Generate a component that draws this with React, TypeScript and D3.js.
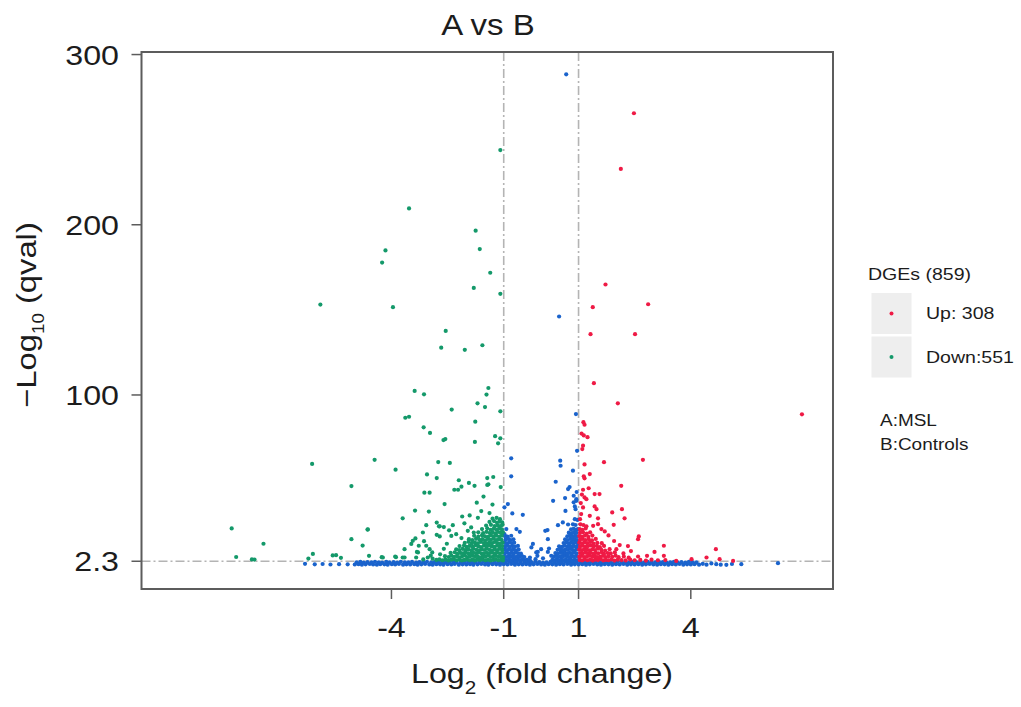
import React from 'react';
import * as d3 from 'd3';

const title = 'A vs B';
const xTicks = [-4, -1, 1, 4];
const yTicks = [2.3, 100, 200, 300];
const xDomain: [number, number] = [-10.68, 7.8];
const yDomain: [number, number] = [-14, 301.5];
const fcCut = [-1, 1];
const qCut = 2.3;
const legendTitle = 'DGEs (859)';
const legendItems = [
  { label: 'Up: 308', group: 'up' },
  { label: 'Down:551', group: 'down' },
];
const notes = ['A:MSL', 'B:Controls'];

// ---- Up-regulated (red) ----
const upSparse: [number, number][] = [
  [2.48,265.5],[2.13,232.8],[1.72,164.9],[1.38,151.6],[2.86,153.3],[1.32,135.7],[2.51,135.7],
  [1.41,106.9],[2.05,95.1],[6.97,88.6],[1.13,84.0],[1.16,82.5],[1.08,77.3],[1.24,75.2],[1.14,76.2],
  [1.12,70.2],[1.10,68.2],[1.68,60.5],[2.72,61.9],[1.16,59.2],[1.30,53.5],[1.14,52.2],[1.16,51.0],
  [2.14,46.6],[1.12,44.3],[1.43,41.8],[1.56,41.8],[1.16,39.8],[1.21,38.8],[1.43,34.5],[1.48,32.9],
  [2.16,32.9],[1.90,31.0],[2.23,27.5],[1.12,33.9],[1.52,27.5],[1.30,29.0],[1.07,30.0],[1.94,23.7],
  [1.52,24.1],[1.61,21.2],[1.39,23.1],[1.21,22.8],[2.61,16.9],[2.59,15.3],[2.32,11.2],[2.10,11.8],
  [2.01,9.4],[3.28,11.4],[3.03,7.8],[2.83,5.5],[2.59,5.1],[3.28,5.5],[4.67,9.4],[4.42,4.5],[4.77,3.5],
  [5.13,2.5],[4.02,3.5],[3.61,2.5],[1.80,17.5],[1.70,19.8],[1.95,14.2],[1.06,36.5],[1.09,41.5],
  [1.27,45.2],[2.40,8.3],[2.20,6.9],
];
const upDense: [number, number][] = [
  [1.03,3.1],[1.10,2.8],[1.17,3.4],[1.24,2.9],[1.31,3.3],[1.38,2.7],[1.45,3.2],[1.52,3.0],[1.59,3.5],[1.66,2.8],
  [1.73,3.1],[1.80,2.9],[1.88,3.4],[1.96,2.7],[2.05,3.2],[2.15,3.0],[2.26,2.8],[2.38,3.3],[2.50,2.9],[2.65,3.1],
  [2.80,2.7],[2.95,3.2],[3.12,2.9],[3.32,3.0],
  [1.02,5.0],[1.09,5.4],[1.16,4.8],[1.23,5.2],[1.30,5.6],[1.37,4.9],[1.44,5.3],[1.51,4.7],[1.58,5.1],[1.65,5.5],
  [1.72,4.8],[1.80,5.2],[1.90,4.9],[1.99,5.6],[2.07,4.7],[2.21,5.1],[2.34,4.4],
  [1.04,7.1],[1.11,6.8],[1.18,7.4],[1.25,6.9],[1.32,7.3],[1.39,6.7],[1.46,7.2],[1.53,7.0],[1.62,7.6],[1.68,6.6],
  [1.78,7.1],[1.86,6.9],[1.97,7.5],
  [1.02,9.2],[1.09,8.8],[1.16,9.4],[1.23,9.0],[1.30,8.7],[1.37,9.3],[1.44,8.9],[1.52,9.7],[1.61,9.0],[1.71,8.6],
  [1.83,9.4],
  [1.04,11.0],[1.11,11.4],[1.18,10.8],[1.25,11.2],[1.32,11.6],[1.40,10.9],[1.49,11.3],[1.57,10.6],[1.68,11.3],
  [1.02,13.2],[1.09,12.8],[1.16,13.4],[1.23,12.9],[1.31,13.6],[1.40,12.7],[1.50,13.1],[1.62,12.9],
  [1.04,15.0],[1.11,15.4],[1.18,14.8],[1.27,15.3],[1.36,14.6],[1.46,15.4],
  [1.02,17.1],[1.09,16.8],[1.17,17.4],[1.26,16.7],[1.37,17.4],
  [1.04,19.0],[1.12,19.4],[1.22,18.6],[1.31,19.3],
  [1.03,21.2],[1.10,20.8],[1.19,21.6],
  [1.05,24.0],[1.13,23.6],
  [1.04,27.0],
];

// ---- Down-regulated (green) ----
const downSparse: [number, number][] = [
  [-1.09,243.9],[-3.53,209.6],[-1.75,196.5],[-1.64,185.7],[-4.16,184.9],[-4.25,177.8],[-1.36,171.8],
  [-1.80,162.9],[-1.09,159.4],[-5.90,153.1],[-3.96,151.6],[-2.55,137.6],[-2.67,127.8],[-2.04,126.5],
  [-1.57,129.2],[-3.38,102.4],[-3.13,100.4],[-1.41,104.1],[-1.46,100.2],[-1.70,95.1],[-1.50,92.9],
  [-2.39,91.4],[-1.09,90.4],[-3.63,86.6],[-3.53,87.2],[-3.14,81.0],[-1.76,84.3],[-2.97,77.7],
  [-2.56,74.1],[-2.61,73.5],[-1.77,72.4],[-1.23,75.8],[-1.09,74.5],[-1.15,71.6],[-6.12,59.5],
  [-4.45,61.9],[-3.89,56.1],[-2.75,60.6],[-2.44,60.1],[-5.07,46.5],[-3.05,53.3],[-2.79,51.2],
  [-2.20,49.9],[-1.93,48.3],[-1.44,51.2],[-1.28,51.8],[-1.44,47.1],[-1.08,45.9],[-2.22,44.3],
  [-2.32,44.3],[-3.12,42.6],[-2.98,42.6],[-1.54,40.3],[-1.72,36.7],[-2.58,35.9],[-1.30,35.6],
  [-4.64,20.9],[-3.70,27.5],[-3.37,32.1],[-3.00,31.5],[-5.07,15.3],[-4.77,11.5],[-8.27,21.6],
  [-7.42,12.6],[-8.15,4.8],[-7.73,3.4],[-7.66,3.3],[-2.13,46.1],[-1.78,46.6],[-1.41,47.5],
  [-2.11,28.6],[-1.91,29.2],[-1.69,27.8],[-3.07,23.5],[-3.16,19.2],[-2.71,22.8],[-2.60,22.4],
  [-2.36,23.5],[-3.36,15.7],[-3.47,12.5],[-3.27,11.4],[-3.13,14.1],[-2.98,9.4],[-2.91,7.5],
  [-3.29,7.5],[-2.79,17.8],[-2.71,16.9],[-2.40,17.2],[-2.27,18.2],[-2.13,15.9],[-1.87,22.2],
  [-1.96,20.2],[-1.80,19.2],[-3.90,5.1],[-3.70,4.5],[-6.10,6.6],[-6.22,3.9],[-5.57,5.7],
  [-5.48,5.9],[-5.35,4.3],[-4.60,5.5],[-4.26,4.7],[-3.88,4.7],[-4.63,21.0],[-3.43,14.3],
  [-3.07,11.4],[-3.65,9.4],[-3.32,7.8],[-4.23,4.5],[-3.65,4.5],[-3.34,4.5],[-3.03,4.5],
  [-2.79,25.0],[-2.73,22.8],[-2.90,3.8],[-2.95,5.6],[-3.15,3.4],[-2.52,12.6],[-2.60,9.6],
  [-2.46,20.5],[-2.05,24.6],[-2.70,6.4],[-1.60,31.8],[-1.38,30.6],
];
const downDense: [number, number][] = [
  [-2.80,3.1],[-2.72,3.4],[-2.64,2.9],[-2.56,3.3],[-2.48,2.8],[-2.40,3.2],[-2.33,3.5],[-2.26,2.9],[-2.19,3.3],
  [-2.12,2.8],[-2.05,3.1],[-1.98,3.4],[-1.91,2.9],[-1.84,3.2],[-1.77,2.8],[-1.70,3.3],[-1.63,3.0],[-1.56,3.4],
  [-1.49,2.9],[-1.42,3.2],[-1.35,2.8],[-1.28,3.1],[-1.21,3.4],[-1.14,2.9],[-1.07,3.2],[-1.02,2.8],
  [-2.57,5.3],[-2.47,4.8],[-2.40,5.6],[-2.33,4.9],[-2.25,5.3],[-2.18,4.6],[-2.11,5.2],[-2.04,5.7],[-1.98,4.8],
  [-1.91,5.1],[-1.84,5.6],[-1.77,4.9],[-1.70,5.3],[-1.63,4.6],[-1.56,5.2],[-1.49,5.0],[-1.42,5.7],[-1.35,4.8],
  [-1.28,5.1],[-1.21,5.5],[-1.14,4.9],[-1.07,5.2],[-1.02,4.7],
  [-2.42,7.2],[-2.31,7.6],[-2.24,6.6],[-2.16,7.2],[-2.09,6.9],[-2.02,7.7],[-1.95,7.0],[-1.88,6.6],[-1.81,7.3],
  [-1.74,6.9],[-1.67,7.6],[-1.60,7.0],[-1.53,6.7],[-1.46,7.3],[-1.39,6.9],[-1.32,7.4],[-1.25,6.8],[-1.18,7.5],
  [-1.11,7.0],[-1.04,7.3],
  [-2.27,9.3],[-2.19,8.8],[-2.10,9.6],[-2.03,8.9],[-1.95,9.3],[-1.87,8.7],[-1.81,9.6],[-1.73,9.0],[-1.66,8.6],
  [-1.59,9.4],[-1.52,8.9],[-1.45,9.6],[-1.38,9.0],[-1.31,8.6],[-1.24,9.3],[-1.17,8.9],[-1.10,9.5],[-1.04,9.0],
  [-2.18,11.2],[-2.06,11.6],[-1.99,10.7],[-1.91,11.3],[-1.83,10.8],[-1.76,11.7],[-1.68,11.0],[-1.61,10.6],
  [-1.53,11.4],[-1.46,10.9],[-1.39,11.6],[-1.32,11.0],[-1.25,10.7],[-1.18,11.4],[-1.11,10.9],[-1.04,11.2],
  [-2.04,13.1],[-1.94,13.7],[-1.86,12.8],[-1.77,13.3],[-1.69,12.8],[-1.61,13.6],[-1.53,13.0],[-1.46,12.6],
  [-1.39,13.4],[-1.31,12.9],[-1.24,13.6],[-1.17,13.0],[-1.10,12.7],[-1.03,13.3],
  [-1.93,15.3],[-1.84,14.7],[-1.74,15.5],[-1.65,14.9],[-1.57,15.3],[-1.49,14.6],[-1.42,15.4],[-1.34,14.9],
  [-1.27,15.6],[-1.20,14.8],[-1.13,15.3],[-1.06,14.9],
  [-1.79,17.3],[-1.68,16.8],[-1.58,17.6],[-1.50,17.0],[-1.42,16.6],[-1.34,17.5],[-1.27,16.9],[-1.20,17.4],
  [-1.12,16.8],[-1.05,17.3],
  [-1.68,19.3],[-1.55,18.8],[-1.46,19.6],[-1.38,18.9],[-1.30,19.4],[-1.22,18.7],[-1.15,19.5],[-1.08,19.0],[-1.02,19.3],
  [-1.58,21.2],[-1.44,21.7],[-1.35,20.8],[-1.27,21.4],[-1.19,20.8],[-1.12,21.6],[-1.05,21.0],
  [-1.47,23.3],[-1.34,23.7],[-1.24,22.9],[-1.16,23.4],[-1.08,23.0],[-1.03,23.7],
  [-1.38,25.4],[-1.26,25.9],[-1.18,25.0],[-1.11,25.6],[-1.04,25.1],
  [-1.30,27.3],[-1.19,27.8],[-1.10,27.0],
];

// ---- Not significant (blue) ----
const nsSparse: [number, number][] = [
  [0.67,288.4],[0.48,146.1],[0.93,88.8],[0.96,67.2],[0.51,61.4],[0.52,58.4],[0.85,55.5],[0.39,49.0],
  [0.72,44.7],[0.76,45.9],[0.32,37.8],[0.64,39.4],[0.87,40.8],[0.94,37.8],[0.90,34.5],[0.65,31.9],
  [0.17,20.6],[0.45,23.5],[0.58,25.1],[0.72,23.9],[0.94,38.8],[0.87,36.9],[0.92,32.9],[0.95,43.0],
  [-0.80,62.8],[-0.80,52.2],[-0.89,35.9],[-0.98,34.0],[-0.77,30.4],[-0.49,29.6],[-0.93,21.2],
  [-0.66,21.2],[-0.57,19.6],[-0.98,18.2],[-0.22,12.5],[-0.26,10.4],[-0.09,7.8],[-0.10,5.5],[0.18,7.8],
  [0.21,9.8],[-0.13,7.5],[0.00,9.4],[0.11,20.2],[0.18,15.3],[0.27,5.5],[-0.15,3.5],[0.05,4.0],[-0.30,4.5],
  [-6.31,0.8],[-6.05,0.5],[-5.84,0.7],[-5.63,0.4],[-5.40,0.6],[-5.17,0.5],
  [4.32,0.8],[4.42,0.3],[4.55,1.0],[4.68,0.6],[4.80,0.3],[4.95,0.2],[5.10,0.7],[5.35,0.6],[6.33,1.2],
];
const nsCluster: [number, number][] = [
  [-0.98,3.1],[-0.92,2.8],[-0.86,3.4],[-0.80,2.9],[-0.74,3.3],[-0.68,2.8],[-0.62,3.2],[-0.56,2.9],[-0.50,3.4],
  [-0.44,2.8],[-0.38,3.1],[-0.30,2.9],
  [-0.99,5.1],[-0.93,4.8],[-0.87,5.4],[-0.81,4.9],[-0.75,5.3],[-0.69,4.7],[-0.63,5.2],[-0.57,4.9],[-0.51,5.4],[-0.45,4.8],
  [-0.97,7.0],[-0.91,7.4],[-0.85,6.8],[-0.79,7.2],[-0.73,6.9],[-0.67,7.5],[-0.61,7.0],[-0.54,6.8],
  [-0.98,9.1],[-0.92,8.8],[-0.86,9.4],[-0.80,8.9],[-0.74,9.3],[-0.68,8.7],[-0.60,9.2],
  [-0.96,11.0],[-0.90,11.4],[-0.84,10.8],[-0.77,11.2],[-0.70,10.9],[-0.62,11.3],
  [-0.97,13.1],[-0.91,12.8],[-0.85,13.4],[-0.78,12.9],[-0.72,13.2],
  [-0.95,15.0],[-0.88,15.4],[-0.82,14.8],[-0.74,15.2],
  [-0.97,17.1],[-0.90,16.8],[-0.80,17.3],
  [0.30,3.1],[0.36,2.8],[0.42,3.4],[0.48,2.9],[0.54,3.3],[0.60,2.8],[0.66,3.2],[0.72,2.9],[0.78,3.4],[0.84,2.8],[0.90,3.1],[0.96,2.9],
  [0.34,5.0],[0.40,5.4],[0.46,4.8],[0.52,5.2],[0.58,4.9],[0.64,5.5],[0.70,5.0],[0.76,4.7],[0.82,5.3],[0.88,4.9],[0.94,5.4],[0.99,5.0],
  [0.38,7.1],[0.45,6.8],[0.52,7.4],[0.58,6.9],[0.64,7.3],[0.70,6.7],[0.76,7.2],[0.82,6.9],[0.88,7.4],[0.94,7.0],
  [0.44,9.0],[0.51,9.4],[0.58,8.8],[0.65,9.2],[0.71,8.9],[0.77,9.5],[0.83,9.0],[0.89,8.7],[0.95,9.3],
  [0.48,11.1],[0.56,10.8],[0.63,11.4],[0.70,10.9],[0.76,11.3],[0.82,10.7],[0.88,11.2],[0.94,10.9],[0.99,11.4],
  [0.60,13.0],[0.67,13.4],[0.74,12.8],[0.80,13.2],[0.86,12.9],[0.92,13.5],[0.97,13.0],
  [0.64,15.1],[0.71,14.8],[0.78,15.4],[0.84,14.9],[0.90,15.3],[0.96,14.8],
  [0.70,17.0],[0.77,17.4],[0.84,16.8],[0.90,17.2],[0.96,16.9],
  [0.74,19.1],[0.82,18.8],[0.88,19.4],[0.94,19.0],
  [0.80,21.0],[0.87,21.4],[0.93,20.8],[0.98,21.2],
  [0.85,24.0],[0.92,23.6],[0.90,27.0],[0.97,26.6],
];
const nsBand: [number, number][] = [
  [-4.98,0.4],[-4.88,0.6],[-4.79,0.3],[-4.69,0.5],[-4.58,0.7],[-4.49,0.4],[-4.39,0.3],[-4.30,0.6],[-4.19,0.5],[-4.10,0.3],
  [-3.99,0.6],[-3.90,0.4],[-3.80,0.7],[-3.69,0.3],[-3.60,0.5],[-3.50,0.4],[-3.39,0.6],[-3.30,0.3],[-3.20,0.5],[-3.10,0.7],
  [-2.99,0.4],[-2.90,0.3],[-2.80,0.6],[-2.70,0.5],[-2.61,0.3],[-2.50,0.6],[-2.40,0.4],[-2.31,0.7],[-2.20,0.3],[-2.10,0.5],
  [-2.00,0.4],[-1.90,0.6],[-1.81,0.3],[-1.70,0.5],[-1.60,0.7],[-1.50,0.4],[-1.41,0.3],[-1.30,0.6],[-1.20,0.5],[-1.10,0.3],
  [-1.00,0.6],[-0.90,0.4],[-0.80,0.7],[-0.70,0.3],[-0.60,0.5],[-0.50,0.4],[-0.40,0.6],[-0.30,0.3],[-0.20,0.5],[-0.10,0.7],
  [0.00,0.4],[0.10,0.3],[0.20,0.6],[0.30,0.5],[0.40,0.3],[0.50,0.6],[0.60,0.4],[0.70,0.7],[0.80,0.3],[0.90,0.5],
  [1.00,0.4],[1.10,0.6],[1.20,0.3],[1.30,0.5],[1.40,0.7],[1.50,0.4],[1.60,0.3],[1.70,0.6],[1.80,0.5],[1.90,0.3],
  [2.00,0.6],[2.10,0.4],[2.20,0.7],[2.30,0.3],[2.40,0.5],[2.50,0.4],[2.60,0.6],[2.70,0.3],[2.80,0.5],[2.90,0.7],
  [3.00,0.4],[3.10,0.3],[3.20,0.6],[3.30,0.5],[3.40,0.3],[3.50,0.6],[3.60,0.4],[3.70,0.7],[3.80,0.3],[3.90,0.5],
  [4.00,0.4],[4.10,0.6],[4.22,0.3],
  [-4.93,1.7],[-4.83,1.9],[-4.74,1.5],[-4.64,1.8],[-4.53,1.6],[-4.44,2.0],[-4.34,1.7],[-4.25,1.5],[-4.14,1.9],[-4.05,1.6],
  [-3.94,1.8],[-3.85,1.5],[-3.75,2.0],[-3.64,1.7],[-3.55,1.6],[-3.45,1.9],[-3.34,1.5],[-3.25,1.8],[-3.15,1.7],[-3.05,2.0],
  [-2.94,1.6],[-2.85,1.8],[-2.75,1.5],[-2.65,1.9],[-2.56,1.7],[-2.45,1.6],[-2.35,2.0],[-2.26,1.8],[-2.15,1.5],[-2.05,1.7],
  [-1.95,1.9],[-1.85,1.6],[-1.76,1.8],[-1.65,1.5],[-1.55,2.0],[-1.45,1.7],[-1.36,1.6],[-1.25,1.9],[-1.15,1.8],[-1.05,1.5],
  [-0.95,1.7],[-0.85,2.0],[-0.75,1.6],[-0.65,1.8],[-0.55,1.5],[-0.45,1.9],[-0.35,1.7],[-0.25,1.6],[-0.15,2.0],[-0.05,1.8],
  [0.05,1.5],[0.15,1.7],[0.25,1.9],[0.35,1.6],[0.45,1.8],[0.55,1.5],[0.65,2.0],[0.75,1.7],[0.85,1.6],[0.95,1.9],
  [1.05,1.8],[1.15,1.5],[1.25,1.7],[1.35,2.0],[1.45,1.6],[1.55,1.8],[1.65,1.5],[1.75,1.9],[1.85,1.7],[1.95,1.6],
  [2.05,2.0],[2.15,1.8],[2.25,1.5],[2.35,1.7],[2.45,1.9],[2.55,1.6],[2.65,1.8],[2.75,1.5],[2.85,2.0],[2.95,1.7],
  [3.05,1.6],[3.15,1.9],[3.25,1.8],[3.35,1.5],[3.45,1.7],[3.55,2.0],[3.65,1.6],[3.75,1.8],[3.85,1.5],[3.95,1.9],
  [4.05,1.7],[4.15,1.6],
];

const colors = { up: '#ef1a45', down: '#14996a', ns: '#1a63cc' };

const W = 1021;
const H = 707;
const plot = { left: 141.5, right: 833, top: 52, bottom: 589 };
const FONT = "'Liberation Sans', Arial, Helvetica, sans-serif";
const TXT = '#1c1c1c';

function SText(props: {
  x: number; y: number; size: number; anchor?: string; rotate?: number; sx?: number; children: React.ReactNode;
}) {
  const { x, y, size, anchor = 'start', rotate = 0, sx = 1.15, children } = props;
  return (
    <text
      transform={`translate(${x},${y}) rotate(${rotate}) scale(${sx},1)`}
      fontSize={size}
      textAnchor={anchor as any}
      fontFamily={FONT}
      fill={TXT}
    >
      {children}
    </text>
  );
}

export default function App() {
  const x = d3.scaleLinear().domain(xDomain).range([plot.left, plot.right]);
  const y = d3.scaleLinear().domain(yDomain).range([plot.bottom, plot.top]);
  const r = 2.1;
  const dash = '9,3,2,3';
  const lineCol = '#b4b4b4';
  const axisCol = '#5c5c5c';

  const dots = (pts: [number, number][], col: string, key: string) =>
    pts.map((p, i) => <circle key={key + i} cx={x(p[0])} cy={y(p[1])} r={r} fill={col} />);

  return (
    <svg width={W} height={H} style={{ position: 'absolute', left: 0, top: 0, background: '#fff' }}>
      <rect x={0} y={0} width={W} height={H} fill="#fff" />
      {fcCut.map((c) => (
        <line key={'v' + c} x1={x(c)} x2={x(c)} y1={plot.top} y2={plot.bottom}
          stroke={lineCol} strokeWidth={1.6} strokeDasharray={dash} />
      ))}
      <line x1={plot.left} x2={plot.right} y1={y(qCut)} y2={y(qCut)}
        stroke={lineCol} strokeWidth={1.6} strokeDasharray={dash} />

      <g>
        {dots(nsBand, colors.ns, 'nb')}
        {dots(nsCluster, colors.ns, 'nc')}
        {dots(nsSparse, colors.ns, 'ns')}
        {dots(downDense, colors.down, 'dd')}
        {dots(downSparse, colors.down, 'ds')}
        {dots(upDense, colors.up, 'ud')}
        {dots(upSparse, colors.up, 'us')}
      </g>

      <rect x={plot.left} y={plot.top} width={plot.right - plot.left} height={plot.bottom - plot.top}
        fill="none" stroke={axisCol} strokeWidth={2} />

      {yTicks.map((t) => (
        <g key={'yt' + t}>
          <line x1={plot.left - 10} x2={plot.left} y1={y(t)} y2={y(t)} stroke={axisCol} strokeWidth={1.5} />
          <SText x={119} y={y(t) + 10} size={28} anchor="end">{String(t)}</SText>
        </g>
      ))}
      {xTicks.map((t) => (
        <g key={'xt' + t}>
          <line x1={x(t)} x2={x(t)} y1={plot.bottom} y2={plot.bottom + 10} stroke={axisCol} strokeWidth={1.5} />
          <SText x={x(t)} y={637} size={28} anchor="middle">{String(t)}</SText>
        </g>
      ))}

      <SText x={488} y={35} size={30} anchor="middle" sx={1.1}>{title}</SText>
      <SText x={542} y={683} size={28} anchor="middle">
        <tspan>Log</tspan>
        <tspan fontSize={18} dy={11}>2</tspan>
        <tspan dy={-11}>{'\u00a0(fold change)'}</tspan>
      </SText>
      <SText x={36} y={315} size={28} anchor="middle" rotate={-90} sx={1.17}>
        <tspan>{'\u2212Log'}</tspan>
        <tspan fontSize={16} dy={8}>10</tspan>
        <tspan dy={-8}>{'\u00a0(qval)'}</tspan>
      </SText>

      <SText x={868} y={280} size={17}>{legendTitle}</SText>
      {legendItems.map((it, i) => {
        const top = 293 + i * 43.5;
        const col = it.group === 'up' ? colors.up : colors.down;
        return (
          <g key={it.group}>
            <rect x={871.5} y={top} width={40} height={41} fill="#eeeeee" />
            <circle cx={891.5} cy={top + 20.5} r={2} fill={col} />
            <SText x={926} y={top + 26} size={17}>{it.label}</SText>
          </g>
        );
      })}
      {notes.map((n, i) => (
        <SText key={n} x={880} y={426 + i * 24} size={16.5}>{n}</SText>
      ))}
    </svg>
  );
}
